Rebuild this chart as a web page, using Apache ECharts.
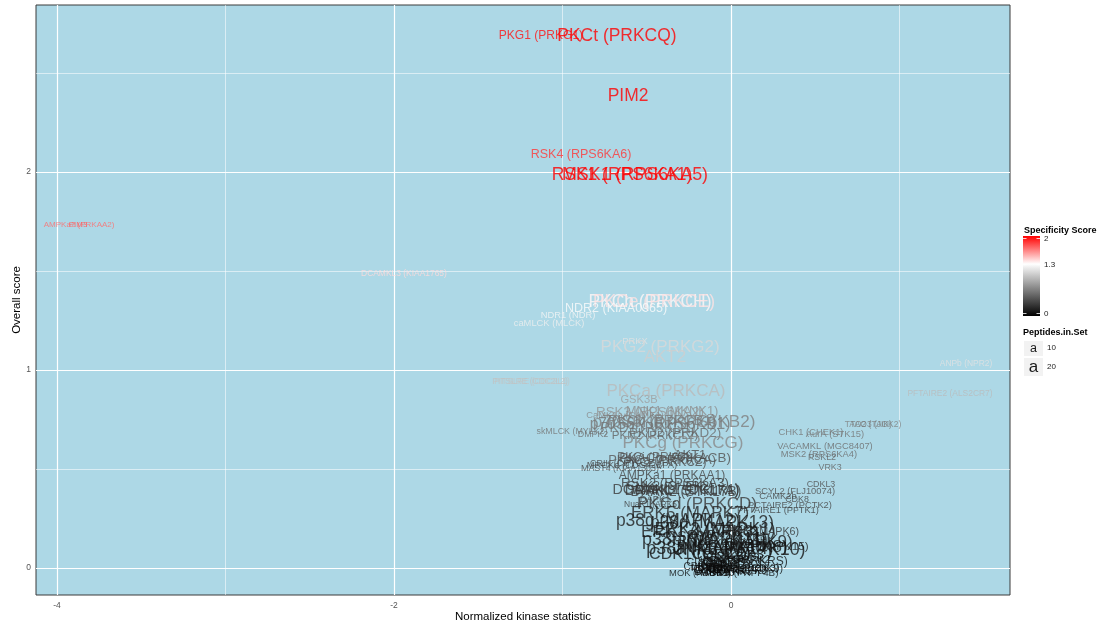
<!DOCTYPE html>
<html>
<head>
<meta charset="utf-8">
<script src="https://cdn.jsdelivr.net/npm/echarts@6/dist/echarts.min.js"></script>
<style>
html,body{margin:0;padding:0;background:#fff}
#chart{width:1105px;height:628px}
</style>
</head>
<body>
<div id="chart"></div>
<script>
// Kinase labels with their normalized kinase statistic (x), overall score (y),
// specificity score (label colour) and number of peptides in the set (label size).
const kinases = [
  "PKG1 (PRKG1)", "PKCt (PRKCQ)", "PIM2", "RSK4 (RPS6KA6)", "RSK1 (RPS6KA1)", "MSK1 (RPS6KA5)",
  "AMPKa2 (PRKAA2)", "PIM3", "DCAMKL3 (KIAA1765)",
  "PKCh (PRKCH)", "PKCe (PRKCE)", "NDR2 (KIAA0965)", "NDR1 (NDR)", "caMLCK (MLCK)", "PRKX",
  "PKG2 (PRKG2)", "AKT2", "PITSLRE (CDC2L1)", "PITSLRE (CDC2L2)", "ANPb (NPR2)", "PFTAIRE2 (ALS2CR7)",
  "PKCa (PRKCA)", "GSK3B", "RSK3 (RPS6KA2)", "MNK1 (MKNK1)", "CaMK1a (CAMK1)", "p70S6Kb (RPS6KB2)",
  "p70S6K (RPS6KB1)", "PKCb (PRKCB1)", "PKD1 (PRKD1)", "PKD2 (PRKD2)", "skMLCK (MYLK2)", "DMPK2",
  "PKN2 (PRKCL2)", "PKCg (PRKCG)", "CHK1 (CHEK1)", "AurA (STK15)", "TAO2 (TAOK2)", "TAO3 (JIK)",
  "VACAMKL (MGC8407)", "MSK2 (RPS6KA4)", "RSKL2", "VRK3", "CDKL3", "SCYL2 (FLJ10074)", "CAMK2b",
  "CDK8", "PCTAIRE2 (PCTK2)", "PFTAIRE1 (PFTK1)",
  "PKCi (PRKCI)", "PKACa (PRKACA)", "PKACb (PRKACB)", "AKT1", "PKCz (PRKCZ)", "CRIK (CIT)",
  "MAST4 (KIAA1303)", "MRCKa (CDC42BPA)", "AMPKa1 (PRKAA1)", "RSK2 (RPS6KA3)", "DCAMKL1 (DCLK1)",
  "DRAK1 (STK17A)", "DRAK2 (STK17B)", "DAPK3", "CHK2 (CHEK2)", "DAPK1", "NuaK1 (ARK5)",
  "PKCd (PRKCD)", "ERK5 (MAPK7)", "p38g (MAPK12)", "p38d (MAPK13)", "ERK1 (MAPK3)", "ERK2 (MAPK1)",
  "GSK3A", "DYRK1A", "HIPK2", "CLK1", "ERK3 (MAPK6)", "p38b (MAPK11)", "JNK2 (MAPK9)", "MAPKAPK2",
  "NLK", "JNK1 (MAPK8)", "p38a (MAPK14)", "ERK7 (MAPK15)", "JNK3 (MAPK10)", "CDK1 (CDC2)", "CDK2",
  "CDK3", "CDK5", "CDK4", "CDKL1", "CLK3", "DYRK2", "CDK6", "HIPK1", "CDK7", "CDKL5", "DYRK3",
  "PCTAIRE3 (PCTK3)", "PITALRE (CDK9)", "CLK2", "HIPK3", "MAK", "ICK", "CDK10", "MOK (RAGE1)",
  "CRK7 (CRKRS)", "CCRK", "CDC2L5", "DYRK4", "PRP4 (PRPF4B)", "SRPK1", "SRPK2", "CLK4"
];
const nks = [
  -1.128, -0.677, -0.611, -0.890, -0.647, -0.570,
  -3.869, -3.875, -1.941,
  -0.481, -0.457, -0.682, -0.967, -1.080, -0.570,
  -0.421, -0.392, -1.181, -1.193, 1.395, 1.300,
  -0.386, -0.546, -0.481, -0.350, -0.629, -0.338,
  -0.421, -0.409, -0.493, -0.332, -0.944, -0.819,
  -0.451, -0.285, 0.475, 0.617, 0.843, 0.831,
  0.558, 0.522, 0.540, 0.588, 0.534, 0.380, 0.279,
  0.392, 0.350, 0.279,
  -0.451, -0.409, -0.332, -0.243, -0.392, -0.706,
  -0.659, -0.588, -0.350, -0.332, -0.326,
  -0.291, -0.267, -0.451, -0.362, -0.451, -0.469,
  -0.202, -0.243, -0.315, -0.113, -0.184, -0.095,
  -0.243, -0.095, 0.053, 0.125, 0.184, -0.154, 0.024, -0.065,
  0.202, -0.006, -0.125, 0.202, 0.053, -0.184, -0.113,
  0.083, -0.036, -0.065, -0.184, -0.148, -0.095, -0.113, -0.036, -0.053, -0.006, 0.024,
  0.024, 0.065, 0.101, 0.125, -0.154, 0.172, -0.077, -0.184,
  0.083, 0.024, -0.018, -0.113, 0.065, -0.065, 0.125, -0.184
];
const overall = [
  2.697, 2.697, 2.394, 2.096, 1.995, 1.995,
  1.742, 1.742, 1.495,
  1.354, 1.354, 1.318, 1.288, 1.247, 1.152,
  1.126, 1.076, 0.949, 0.949, 1.040, 0.889,
  0.904, 0.859, 0.798, 0.803, 0.783, 0.747,
  0.732, 0.753, 0.717, 0.692, 0.697, 0.682,
  0.677, 0.641, 0.697, 0.687, 0.732, 0.732,
  0.626, 0.586, 0.566, 0.520, 0.434, 0.399, 0.374,
  0.354, 0.328, 0.303,
  0.566, 0.556, 0.566, 0.581, 0.540, 0.540,
  0.515, 0.530, 0.475, 0.439, 0.404,
  0.399, 0.394, 0.404, 0.424, 0.359, 0.328,
  0.333, 0.288, 0.247, 0.237, 0.192, 0.202,
  0.167, 0.177, 0.192, 0.167, 0.192, 0.152, 0.141, 0.131,
  0.141, 0.116, 0.106, 0.116, 0.101, 0.076, 0.076,
  0.076, 0.061, 0.040, 0.015, 0.000, 0.010, 0.030, 0.015, 0.000, 0.000, -0.010,
  0.010, 0.005, 0.025, -0.005, -0.010, 0.010, -0.015, -0.015,
  0.040, 0.051, 0.030, -0.010, -0.015, 0.025, 0.051, 0.035
];
const specificity = [
  1.95, 2.0, 2.0, 1.85, 2.0, 2.0,
  1.7, 1.75, 1.4,
  1.32, 1.38, 1.28, 1.25, 1.22, 1.15,
  1.1, 1.05, 1.0, 0.98, 1.15, 0.95,
  0.95, 0.8, 0.75, 0.72, 0.7, 0.65,
  0.6, 0.62, 0.58, 0.55, 0.6, 0.55,
  0.5, 0.7, 0.6, 0.6, 0.65, 0.6,
  0.55, 0.55, 0.5, 0.5, 0.4, 0.4, 0.35,
  0.35, 0.35, 0.3,
  0.45, 0.45, 0.42, 0.4, 0.4, 0.35,
  0.35, 0.35, 0.35, 0.3, 0.3,
  0.28, 0.3, 0.3, 0.3, 0.3, 0.3,
  0.3, 0.2, 0.15, 0.15, 0.15, 0.12,
  0.2, 0.15, 0.15, 0.15, 0.25, 0.1, 0.12, 0.12,
  0.15, 0.1, 0.1, 0.12, 0.1, 0.1, 0.1,
  0.1, 0.1, 0.1, 0.05, 0.05, 0.05, 0.05, 0.05, 0.05, 0.05, 0.05,
  0.05, 0.05, 0.05, 0.05, 0.05, 0.05, 0.05, 0.05,
  0.08, 0.08, 0.06, 0.05, 0.05, 0.08, 0.08, 0.06
];
const peptides = [
  9, 21, 21, 10, 21, 22,
  0, 0, 1,
  21, 21, 10, 3, 3, 3,
  20, 20, 1, 1, 1, 1,
  20, 7, 12, 11, 3, 20,
  17, 14, 13, 12, 2, 2,
  8, 20, 3, 3, 1, 1,
  3, 3, 2, 2, 2, 3, 3,
  2, 3, 3,
  9, 11, 12, 11, 9, 2,
  2, 3, 9, 12, 14,
  14, 13, 10, 10, 3, 1,
  20, 20, 21, 21, 20, 21,
  14, 12, 10, 8, 6, 22, 20, 10,
  6, 20, 22, 8, 22, 18, 16,
  14, 14, 10, 5, 5, 6, 6, 6, 6, 5, 5,
  4, 6, 5, 5, 4, 4, 5, 3,
  9, 8, 7, 5, 4, 8, 8, 6
];

// Axis breaks and gridlines
const xRange = [-4.125, 1.656];
const yRange = [-0.136, 2.843];
const xTicks = [-4, -2, 0];
const yTicks = [0, 1, 2];
const xMinor = [-3, -1, 1];
const yMinor = [0.5, 1.5, 2.5];

// Legend breaks
const specLimits = [0, 2];
const specMid = 1.3;
const specBreaks = [0, 1.3, 2];
const pepBreaks = [10, 20];

const FONT = "'Liberation Sans', Arial, Helvetica, sans-serif";

// colour scale: black (0) -> white (1.3) -> red (2)
function specColor(s) {
  s = Math.max(specLimits[0], Math.min(specLimits[1], s));
  if (s <= specMid) {
    const v = Math.round(255 * (s - specLimits[0]) / (specMid - specLimits[0]));
    return 'rgb(' + v + ',' + v + ',' + v + ')';
  }
  const t = (s - specMid) / (specLimits[1] - specMid);
  const g = Math.round(255 * (1 - t));
  return 'rgb(255,' + g + ',' + g + ')';
}
// size scale: peptides -> font size in px
function pepSize(p) { return 8 + 0.45 * p; }

const labelData = kinases.map((name, i) => ({
  name: name,
  value: [nks[i], overall[i], specificity[i], peptides[i]],
  label: { color: specColor(specificity[i]), fontSize: pepSize(peptides[i]) }
}));

const majorStyle = { color: '#ffffff', width: 1.2, type: 'solid' };
const minorStyle = { color: '#ffffff', width: 0.55, type: 'solid' };
const gridLines = []
  .concat(xMinor.map(v => ({ xAxis: v, lineStyle: minorStyle })))
  .concat(yMinor.map(v => ({ yAxis: v, lineStyle: minorStyle })))
  .concat(xTicks.map(v => ({ xAxis: v, lineStyle: majorStyle })))
  .concat(yTicks.map(v => ({ yAxis: v, lineStyle: majorStyle })));

// Legend geometry
const lgX = 1023;
const barTop = 236, barH = 80, barW = 17;
const barPad = 2.5;
function barY(s) {
  return barTop + barPad + (specLimits[1] - s) / (specLimits[1] - specLimits[0]) * (barH - 2 * barPad);
}
const stops = [];
for (let k = 0; k <= 20; k++) {
  stops.push({ offset: k / 20, color: specColor(specLimits[1] - k / 20 * (specLimits[1] - specLimits[0])) });
}
const legendGraphics = [
  { type: 'text', left: lgX + 1, top: 226, style: { text: 'Specificity Score', font: 'bold 9px ' + FONT, fill: '#000' } },
  { type: 'rect', shape: { x: lgX, y: barTop, width: barW, height: barH },
    style: { fill: { type: 'linear', x: 0, y: 0, x2: 0, y2: 1, colorStops: stops } } },
  { type: 'text', left: lgX, top: 328, style: { text: 'Peptides.in.Set', font: 'bold 9px ' + FONT, fill: '#000' } }
];
specBreaks.forEach(s => {
  const y = barY(s);
  legendGraphics.push({ type: 'line', shape: { x1: lgX, y1: y, x2: lgX + 3.5, y2: y }, style: { stroke: '#fff', lineWidth: 0.8 } });
  legendGraphics.push({ type: 'line', shape: { x1: lgX + barW - 3.5, y1: y, x2: lgX + barW, y2: y }, style: { stroke: '#fff', lineWidth: 0.8 } });
  legendGraphics.push({ type: 'text', x: lgX + barW + 4, y: y, style: { text: String(s), font: '8px ' + FONT, fill: '#222', verticalAlign: 'middle' } });
});
const keyTops = [341, 358];
const keyHeights = [16, 19];
pepBreaks.forEach((p, i) => {
  const cy = keyTops[i] + keyHeights[i] / 2;
  legendGraphics.push({ type: 'rect', shape: { x: lgX + 1, y: keyTops[i], width: 19, height: keyHeights[i] - 1 }, style: { fill: '#f2f2f2' } });
  legendGraphics.push({ type: 'text', x: lgX + 10.5, y: cy, style: { text: 'a', font: pepSize(p) + 'px ' + FONT, fill: '#1a1a1a', align: 'center', verticalAlign: 'middle' } });
  legendGraphics.push({ type: 'text', x: lgX + 24, y: cy - 1, style: { text: String(p), font: '8px ' + FONT, fill: '#222', verticalAlign: 'middle' } });
});

const chart = echarts.init(document.getElementById('chart'), null, { renderer: 'canvas' });
chart.setOption({
  animation: false,
  backgroundColor: '#ffffff',
  textStyle: { fontFamily: FONT },
  grid: {
    left: 36, right: 95, top: 5, bottom: 33,
    containLabel: false, outerBoundsMode: 'none',
    show: true, backgroundColor: '#add8e6', borderColor: '#3a3a3a', borderWidth: 1
  },
  xAxis: {
    type: 'value', min: xRange[0], max: xRange[1],
    name: 'Normalized kinase statistic', nameLocation: 'middle', nameGap: 16, nameMoveOverlap: false,
    nameTextStyle: { color: '#000', fontSize: 11.5, fontFamily: FONT },
    axisLine: { show: false },
    axisTick: { show: true, length: 3, customValues: xTicks, lineStyle: { color: '#333' } },
    axisLabel: { customValues: xTicks, color: '#555', fontSize: 8.5, margin: 6, fontFamily: FONT },
    splitLine: { show: false }
  },
  yAxis: {
    type: 'value', min: yRange[0], max: yRange[1],
    name: 'Overall score', nameLocation: 'middle', nameGap: 13, nameRotate: 90, nameMoveOverlap: false,
    nameTextStyle: { color: '#000', fontSize: 11.5, fontFamily: FONT },
    axisLine: { show: false },
    axisTick: { show: true, length: 3, customValues: yTicks, lineStyle: { color: '#333' } },
    axisLabel: { customValues: yTicks, color: '#555', fontSize: 8.5, margin: 5, fontFamily: FONT },
    splitLine: { show: false }
  },
  graphic: legendGraphics,
  series: [
    {
      type: 'scatter', z: 1, silent: true, data: [],
      markLine: { silent: true, z: 1, symbol: ['none', 'none'], label: { show: false }, animation: false, data: gridLines }
    },
    {
      type: 'scatter', z: 5, silent: true,
      symbol: 'circle', symbolSize: 1,
      itemStyle: { color: 'rgba(0,0,0,0)' },
      label: {
        show: true, position: 'inside', offset: [0, 2], fontFamily: FONT,
        formatter: p => p.name
      },
      emphasis: { disabled: true },
      data: labelData
    }
  ]
});
</script>
</body>
</html>
